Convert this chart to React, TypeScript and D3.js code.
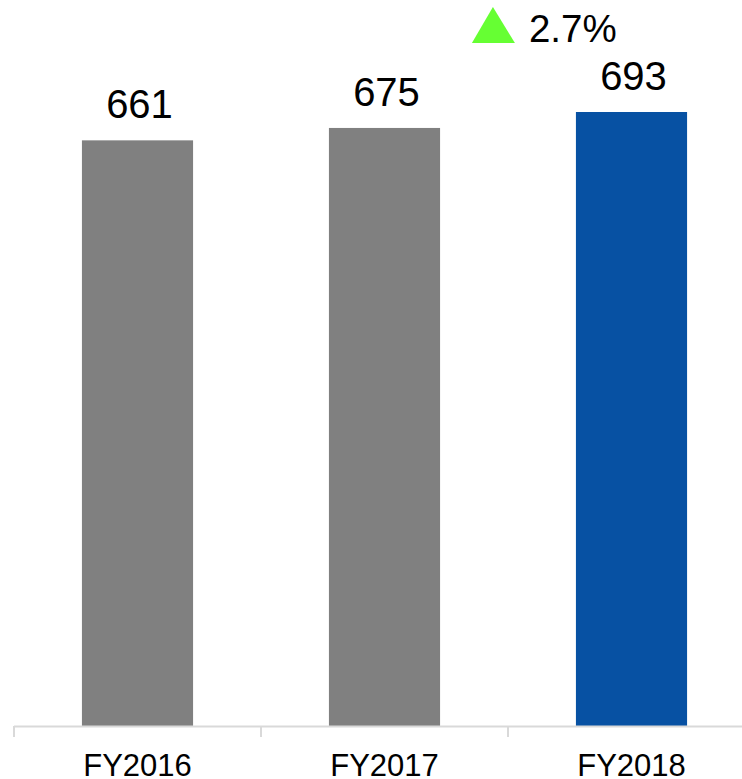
import React from "react";
import * as d3 from "d3";

const categories = ["FY2016", "FY2017", "FY2018"];
const values = [661, 675, 693];
const barColors = ["#808080", "#808080", "#0751A3"];
const growthLabel = "2.7%";

export default function App() {
  const width = 742;
  const height = 779;
  const x = d3.scaleBand<string>().domain(categories).range([14, 755]).paddingInner(0.55).paddingOuter(0.275);
  const y = d3.scaleLinear().domain([0, 693]).range([726, 112]);
  const step = x.step();
  const font = "'Liberation Sans', Arial, sans-serif";
  const last = categories[categories.length - 1];
  const lastTop = y(values[values.length - 1]);
  return (
    <svg width={width} height={height} style={{ position: "absolute", left: 0, top: 0 }}>
      <rect width={width} height={height} fill="#fff" />
      {categories.map((c, i) => (
        <g key={c}>
          <rect x={x(c)!} y={y(values[i])} width={x.bandwidth()} height={y(0) - y(values[i])} fill={barColors[i]} />
          <text x={x(c)! + x.bandwidth() / 2 + 2} y={y(values[i]) - 22} textAnchor="middle" fontFamily={font} fontSize={40} fill="#000">
            {values[i]}
          </text>
          <text x={x(c)! + x.bandwidth() / 2} y={776} textAnchor="middle" fontFamily={font} fontSize={31} fill="#000">
            {c}
          </text>
        </g>
      ))}
      <line x1={14} x2={width} y1={726.5} y2={726.5} stroke="#D9D9D9" strokeWidth={2} />
      {categories.map((c, i) => (
        <line key={"t" + c} x1={14 + i * step} x2={14 + i * step} y1={726} y2={737} stroke="#D9D9D9" strokeWidth={2} />
      ))}
      <path
        d={`M ${x(last)! - 104} 43 L ${x(last)! - 83} ${lastTop - 105} L ${x(last)! - 61} 43 Z`}
        fill="#66FF33"
      />
      <text x={x(last)! - 47} y={42} fontFamily={font} fontSize={38.5} fill="#000">
        {growthLabel}
      </text>
    </svg>
  );
}
